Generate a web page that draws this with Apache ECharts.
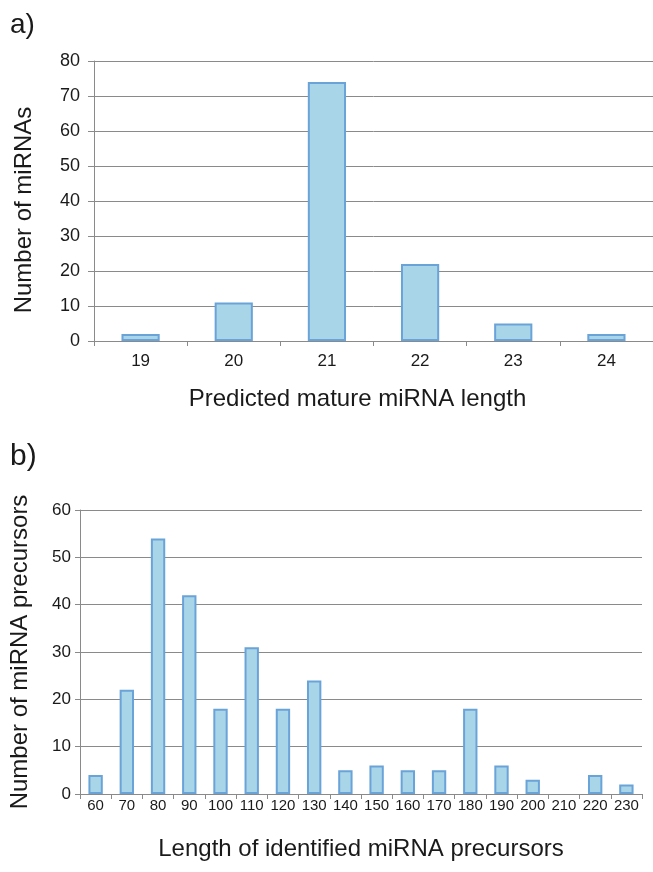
<!DOCTYPE html>
<html>
<head>
<meta charset="utf-8">
<script src="https://cdn.jsdelivr.net/npm/echarts@6/dist/echarts.min.js"></script>
<style>
html,body{margin:0;padding:0;background:#fff;}
#main{width:653px;height:872px;}
</style>
</head>
<body>
<div id="main"></div>
<script>
var lengthCategories = ['19','20','21','22','23','24'];
var lengthCounts = [2, 11, 74, 22, 5, 2];
var precursorCategories = ['60','70','80','90','100','110','120','130','140','150','160','170','180','190','200','210','220','230'];
var precursorCounts = [4, 22, 54, 42, 18, 31, 18, 24, 5, 6, 5, 5, 18, 6, 3, 0, 4, 2];

var chart = echarts.init(document.getElementById('main'), null, {renderer:'canvas'});
var font = '"Liberation Sans", Arial, Helvetica, sans-serif';
var textColor = '#1a1a1a';
var gridColor = '#8a8a8a';
var barStyle = {color:'#a9d5e9', borderColor:'#6aa3d8', borderWidth:2};
function hideZero(arr){ return arr.map(function(v){ return v === 0 ? null : v; }); }

chart.setOption({
  backgroundColor:'#fff',
  animation:false,
  graphic:[
    {type:'text', left:10, top:11, style:{text:'a)', font:'28px '+font, fill:textColor}},
    {type:'text', left:10, top:442, style:{text:'b)', font:'30px '+font, fill:textColor}}
  ],
  grid:[
    {left:94, top:61, width:568, height:280},
    {left:80, top:510, width:562, height:284}
  ],
  xAxis:[
    {gridIndex:0, type:'category', data:lengthCategories,
     axisLine:{lineStyle:{color:gridColor, width:1}},
     axisTick:{show:true, length:5, lineStyle:{color:gridColor}},
     axisLabel:{color:textColor, fontFamily:font, fontSize:17, margin:12},
     name:'Predicted mature miRNA length', nameLocation:'middle', nameGap:46,
     nameTextStyle:{color:textColor, fontFamily:font, fontSize:24, padding:[0,32,0,0]}},
    {gridIndex:1, type:'category', data:precursorCategories,
     axisLine:{lineStyle:{color:gridColor, width:1}},
     axisTick:{show:true, length:5, lineStyle:{color:gridColor}},
     axisLabel:{color:textColor, fontFamily:font, fontSize:15, margin:4, interval:0},
     name:'Length of identified miRNA precursors', nameLocation:'middle', nameGap:43,
     nameTextStyle:{color:textColor, fontFamily:font, fontSize:24}},
  ],
  yAxis:[
    {gridIndex:0, type:'value', min:0, max:80, interval:10,
     axisLine:{show:true, lineStyle:{color:gridColor}},
     axisTick:{show:true, length:6, lineStyle:{color:gridColor}},
     splitLine:{lineStyle:{color:gridColor, width:1}},
     axisLabel:{color:textColor, fontFamily:font, fontSize:18, margin:14},
     name:'Number of miRNAs', nameLocation:'middle', nameGap:58,
     nameTextStyle:{color:textColor, fontFamily:font, fontSize:24, padding:[0,18,0,0]}},
    {gridIndex:1, type:'value', min:0, max:60, interval:10,
     axisLine:{show:true, lineStyle:{color:gridColor}},
     axisTick:{show:true, length:5, lineStyle:{color:gridColor}},
     splitLine:{lineStyle:{color:gridColor, width:1}},
     axisLabel:{color:textColor, fontFamily:font, fontSize:17, margin:9},
     name:'Number of miRNA precursors', nameLocation:'middle', nameGap:48,
     nameTextStyle:{color:textColor, fontFamily:font, fontSize:24}}
  ],
  series:[
    {type:'bar', xAxisIndex:0, yAxisIndex:0, data:hideZero(lengthCounts), barWidth:'41%', itemStyle:barStyle},
    {type:'bar', xAxisIndex:1, yAxisIndex:1, data:hideZero(precursorCounts), barWidth:'46%', itemStyle:barStyle}
  ]
});
</script>
</body>
</html>
